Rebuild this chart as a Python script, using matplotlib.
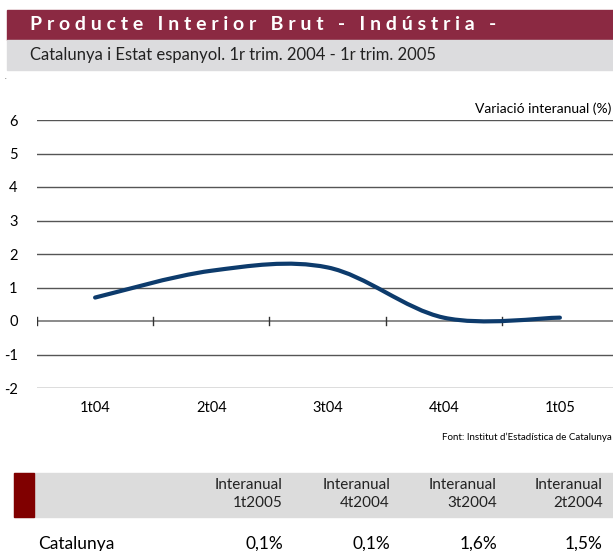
import matplotlib.pyplot as plt
import matplotlib.patches as mpatches
from matplotlib.path import Path
import numpy as np

plt.rcParams['font.family'] = ['Lato', 'DejaVu Sans']

quarters = ['1t04', '2t04', '3t04', '4t04', '1t05']
catalunya = [0.7, 1.5, 1.6, 0.1, 0.1]
y_ticks = [-2, -1, 0, 1, 2, 3, 4, 5, 6]

table_cols = ['Interanual\n1t2005', 'Interanual\n4t2004', 'Interanual\n3t2004', 'Interanual\n2t2004']
table_row = 'Catalunya'
table_vals = ['0,1%', '0,1%', '1,6%', '1,5%']

W, H = 613, 551
fig = plt.figure(figsize=(W / 100, H / 100), dpi=100)


def fx(px):
    return px / W


def fy(py):
    return 1 - py / H


# header bars
fig.patches.append(mpatches.Rectangle((fx(7), fy(40)), fx(W - 7), 30 / H, transform=fig.transFigure,
                                      color='#8b2942', zorder=0))
fig.patches.append(mpatches.Rectangle((fx(7), fy(70)), fx(W - 7), 30 / H, transform=fig.transFigure,
                                      color='#dcdcde', zorder=0))
fig.text(fx(30), fy(25), 'P r o d u c t e   I n t e r i o r   B r u t   -   I n d ú s t r i a   -',
         color='white', fontsize=14, fontweight='bold', va='center', ha='left')
fig.text(fx(30), fy(55), 'Catalunya i Estat espanyol. 1r trim. 2004 - 1r trim. 2005',
         color='#222222', fontsize=12, va='center', ha='left')
fig.text(fx(5), fy(79), '.', fontsize=5, color='#555555')

# chart
ax_left, ax_right = 37, 618
ax_top, ax_bot = 120, 388
ax = fig.add_axes([fx(ax_left), fy(ax_bot), (ax_right - ax_left) / W, (ax_bot - ax_top) / H])
ax.set_xlim(-0.5, len(quarters) - 0.5)
ax.set_ylim(-2, 6)
for s in ax.spines.values():
    s.set_visible(False)
for v in y_ticks:
    ax.axhline(v, color='#555555' if v != 0 else '#777777', lw=1.2 if v == 0 else 1.0, zorder=1)
ax.set_yticks(y_ticks)
ax.set_yticklabels([str(v) for v in y_ticks], fontsize=10.5)
ax.tick_params(axis='y', length=0, pad=14)
ax.set_xticks([])

# tick marks on the zero line at category boundaries
for b in np.arange(-0.5, len(quarters) - 0.5):
    ax.plot([b, b], [-0.12, 0.12], color='#333333', lw=1, zorder=2)

for i, q in enumerate(quarters):
    ax.text(i, -2.6, q, ha='center', va='center', fontsize=10.5)

# smoothed line (Excel style bezier through the points)
xs = np.arange(len(catalunya), dtype=float)
ys = np.array(catalunya, dtype=float)
verts = [(xs[0], ys[0])]
codes = [Path.MOVETO]
n = len(xs)
for i in range(n - 1):
    p0 = np.array([xs[max(i - 1, 0)], ys[max(i - 1, 0)]])
    p1 = np.array([xs[i], ys[i]])
    p2 = np.array([xs[i + 1], ys[i + 1]])
    p3 = np.array([xs[min(i + 2, n - 1)], ys[min(i + 2, n - 1)]])
    c1 = p1 + (p2 - p0) / 6
    c2 = p2 - (p3 - p1) / 6
    verts += [tuple(c1), tuple(c2), tuple(p2)]
    codes += [Path.CURVE4] * 3
ax.add_patch(mpatches.PathPatch(Path(verts, codes), fill=False, edgecolor='#0d3b6c', lw=3,
                                capstyle='round', zorder=3))

fig.text(fx(611), fy(109), 'Variació interanual (%)', ha='right', va='center', fontsize=10)
fig.text(fx(612), fy(437), 'Font: Institut d\u2019Estadística de Catalunya', ha='right', va='center',
         fontsize=7)

# table
fig.patches.append(mpatches.Rectangle((fx(14), fy(517)), fx(W - 14), 44 / H, transform=fig.transFigure,
                                      color='#dcdcdc', zorder=0))
fig.patches.append(mpatches.Rectangle((fx(14), fy(517)), fx(20), 44 / H, transform=fig.transFigure,
                                      color='#800000', zorder=0))
col_right = [283, 390, 497, 603]
for xr, c in zip(col_right, table_cols):
    fig.text(fx(xr), fy(494), c, ha='right', va='center', fontsize=11, linespacing=1.3, color='#222222')
fig.text(fx(38), fy(544), table_row, ha='left', va='center', fontsize=12.5)
for xr, v in zip(col_right, table_vals):
    fig.text(fx(xr), fy(544), v, ha='right', va='center', fontsize=12.5)

fig.savefig('out.png', dpi=100)
